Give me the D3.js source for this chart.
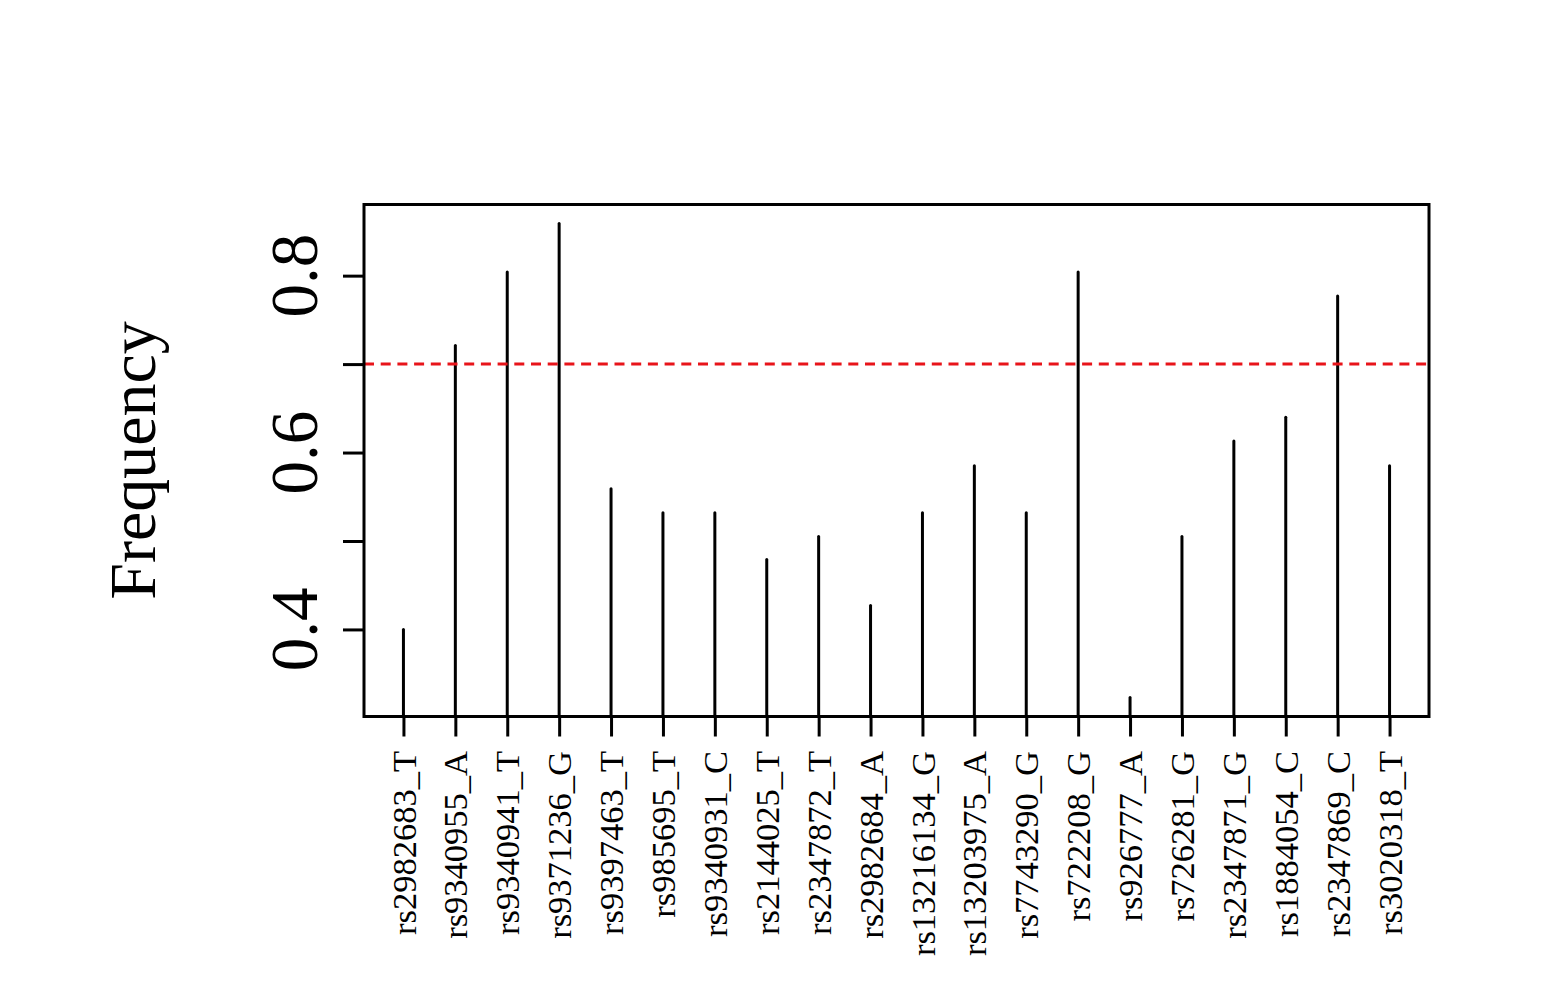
<!DOCTYPE html>
<html>
<head>
<meta charset="utf-8">
<script src="https://cdn.jsdelivr.net/npm/d3@7"></script>
<style>
  html, body { margin: 0; padding: 0; background: #ffffff; }
  svg { display: block; }
  text { font-family: "Liberation Serif", "Times New Roman", serif; fill: #000; }
</style>
</head>
<body>
<svg id="chart" width="1553" height="1000"></svg>
<script>
// ---- data ----
const snps = ["rs2982683_T","rs9340955_A","rs9340941_T","rs9371236_G","rs9397463_T",
  "rs985695_T","rs9340931_C","rs2144025_T","rs2347872_T","rs2982684_A",
  "rs13216134_G","rs13203975_A","rs7743290_G","rs722208_G","rs926777_A",
  "rs726281_G","rs2347871_G","rs1884054_C","rs2347869_C","rs3020318_T"];
const frequency = [0.400, 0.721, 0.804, 0.859, 0.559,
  0.532, 0.532, 0.479, 0.505, 0.427,
  0.532, 0.585, 0.532, 0.804, 0.323,
  0.505, 0.613, 0.640, 0.777, 0.585];
const yTicks = [0.4, 0.5, 0.6, 0.7, 0.8];
const yTickLabels = ["0.4", "", "0.6", "", "0.8"];
const threshold = 0.7;
const yTitle = "Frequency";

// ---- layout ----
const svg = d3.select("#chart");
const plot = { left: 364, right: 1429, top: 204.5, bottom: 716.5 };

const idx = d3.range(1, snps.length + 1);
const xPad = (snps.length - 1) * 0.04;
const x = d3.scaleLinear()
  .domain([1 - xPad, snps.length + xPad])
  .range([plot.left, plot.right]);

const [ymin, ymax] = d3.extent(frequency);
const yPad = (ymax - ymin) * 0.04;
const y = d3.scaleLinear()
  .domain([ymin - yPad, ymax + yPad])
  .range([plot.bottom, plot.top]);

// ---- clip ----
svg.append("defs").append("clipPath").attr("id", "plotclip")
  .append("rect")
  .attr("x", plot.left).attr("y", plot.top)
  .attr("width", plot.right - plot.left).attr("height", plot.bottom - plot.top);

const g = svg.append("g").attr("clip-path", "url(#plotclip)");

// histogram-like vertical lines (type = "h")
g.selectAll("line.h")
  .data(frequency)
  .join("line")
  .attr("class", "h")
  .attr("x1", (d, i) => x(i + 1))
  .attr("x2", (d, i) => x(i + 1))
  .attr("y1", plot.bottom + 5)
  .attr("y2", d => y(d))
  .attr("stroke", "#000")
  .attr("stroke-width", 3)
  .attr("stroke-linecap", "round");

// threshold line
g.append("line")
  .attr("x1", plot.left).attr("x2", plot.right)
  .attr("y1", y(threshold)).attr("y2", y(threshold))
  .attr("stroke", "#e8141a")
  .attr("stroke-width", 3)
  .attr("stroke-dasharray", "10,6.7");

// ---- box ----
svg.append("rect")
  .attr("x", plot.left).attr("y", plot.top)
  .attr("width", plot.right - plot.left).attr("height", plot.bottom - plot.top)
  .attr("fill", "none").attr("stroke", "#000").attr("stroke-width", 3);

// ---- y axis ----
const yAxis = d3.axisLeft(y)
  .tickValues(yTicks)
  .tickSize(21)
  .tickFormat(() => "");
const ya = svg.append("g").attr("transform", `translate(${plot.left},0)`).call(yAxis);
ya.select(".domain").remove();
ya.selectAll(".tick line").attr("stroke", "#000").attr("stroke-width", 3);

svg.append("g").selectAll("text")
  .data(yTicks)
  .join("text")
  .attr("transform", d => `translate(317,${y(d)}) rotate(-90)`)
  .attr("text-anchor", "middle")
  .style("font-size", "67px")
  .text((d, i) => yTickLabels[i]);

// ---- x axis ----
const xAxis = d3.axisBottom(x)
  .tickValues(idx)
  .tickSize(20)
  .tickFormat(() => "");
const xa = svg.append("g").attr("transform", `translate(0,${plot.bottom})`).call(xAxis);
xa.select(".domain").remove();
xa.selectAll(".tick line").attr("stroke", "#000").attr("stroke-width", 3);

svg.append("g").selectAll("text")
  .data(snps)
  .join("text")
  .attr("transform", (d, i) => `translate(${x(i + 1)},751) rotate(-90)`)
  .attr("text-anchor", "end")
  .attr("dy", "0.35em")
  .style("font-size", "34.5px")
  .text(d => d);

// ---- y title ----
svg.append("text")
  .attr("transform", `translate(155,${(plot.top + plot.bottom) / 2}) rotate(-90)`)
  .attr("text-anchor", "middle")
  .style("font-size", "66px")
  .text(yTitle);
</script>
</body>
</html>
